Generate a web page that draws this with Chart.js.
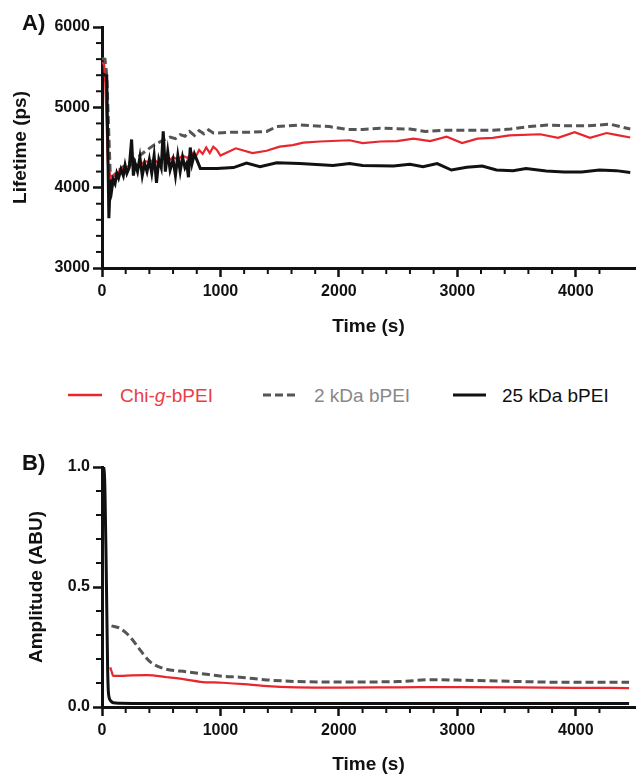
<!DOCTYPE html>
<html>
<head>
<meta charset="utf-8">
<title>Lifetime and amplitude vs time</title>
<script src="https://cdn.jsdelivr.net/npm/chart.js@4.4.1/dist/chart.umd.min.js"></script>
<style>
  body { margin: 0; background: #fff; font-family: "Liberation Sans", Arial, sans-serif; }
  #page { position: relative; width: 637px; height: 774px; overflow: hidden; }
  canvas { position: absolute; left: 0; }
  #chartA { top: 0; }
  #chartB { top: 430px; }
  .panel { position: absolute; left: 22px; font-weight: bold; font-size: 22px; line-height: 22px; color: #111; }
  .leg-text { position: absolute; top: 386px; font-size: 19px; line-height: 19px; white-space: nowrap; }
  .leg-line { position: absolute; top: 389.5px; }
</style>
</head>
<body>
<div id="page">
  <canvas id="chartA" width="637" height="340"></canvas>
  <canvas id="chartB" width="637" height="344"></canvas>

  <div class="panel" style="top:12px">A)</div>
  <div class="panel" style="top:452px">B)</div>

  <svg class="leg-line" style="left:68px" width="34" height="10"><line x1="0" y1="5" x2="34" y2="5" stroke="#e8262d" stroke-width="2.5"/></svg>
  <div class="leg-text" style="left:120px; color:#ec3c46">Chi-<i>g</i>-bPEI</div>
  <svg class="leg-line" style="left:263px" width="33" height="10"><line x1="0" y1="5" x2="33" y2="5" stroke="#555" stroke-width="3" stroke-dasharray="8 4"/></svg>
  <div class="leg-text" style="left:314px; color:#888">2 kDa bPEI</div>
  <svg class="leg-line" style="left:453px" width="33" height="10"><line x1="0" y1="5" x2="33" y2="5" stroke="#111" stroke-width="3"/></svg>
  <div class="leg-text" style="left:502px; color:#111">25 kDa bPEI</div>
</div>

<script>
// ---- data ----
// A) lifetime (ps) vs time (s)
const timeA_chi = [0, 18, 28, 50, 75, 100, 130, 160, 200, 240, 280, 320, 360, 400, 440, 480, 520, 560, 600, 640,
  680, 720, 760, 790, 820, 850, 880, 910, 940, 970, 1000, 1130, 1270, 1390, 1500, 1610, 1700, 1840, 2090, 2200,
  2350, 2490, 2630, 2770, 2910, 3040, 3170, 3300, 3440, 3700, 3850, 3990, 4120, 4260, 4330, 4460];
const lifeA_chi = [5560, 5530, 5300, 4300, 4100, 4150, 4180, 4230, 4250, 4280, 4300, 4270, 4330, 4320, 4350, 4300, 4370, 4330, 4380, 4350,
  4400, 4370, 4430, 4380, 4470, 4420, 4500, 4430, 4510, 4470, 4400, 4490, 4430, 4460, 4510, 4530, 4560, 4575, 4590, 4555,
  4575, 4580, 4610, 4580, 4635, 4555, 4610, 4620, 4650, 4665, 4620, 4690, 4620, 4680, 4660, 4625];

const timeA_2k = [0, 25, 40, 70, 85, 130, 180, 250, 320, 380, 440, 490, 530, 575, 620, 660, 700, 740, 780, 820,
  860, 900, 940, 980, 1100, 1250, 1390, 1475, 1670, 1920, 2070, 2200, 2350, 2600, 2730, 2880, 3040, 3300, 3450, 3610,
  3760, 3900, 4100, 4290, 4460];
const lifeA_2k = [5610, 5600, 5400, 4150, 4130, 4200, 4260, 4330, 4400, 4470, 4530, 4570, 4600, 4630, 4610, 4660, 4640, 4700, 4650, 4710,
  4670, 4720, 4680, 4680, 4690, 4690, 4700, 4760, 4780, 4760, 4725, 4725, 4740, 4730, 4700, 4715, 4715, 4715, 4730, 4760,
  4780, 4770, 4770, 4790, 4730];

const timeA_25k = [0, 40, 58, 70, 82, 95, 110, 125, 140, 160, 180, 195, 210, 230, 250, 265, 280, 300, 320, 340,
  360, 380, 400, 420, 440, 460, 480, 500, 517, 535, 555, 575, 600, 620, 640, 660, 680, 700, 715, 730,
  745, 760, 780, 830, 970, 1110, 1220, 1334, 1475, 1670, 1950, 2090, 2200, 2460, 2600, 2710, 2830, 2950, 3080, 3210,
  3330, 3470, 3580, 3750, 3900, 4050, 4200, 4340, 4460];
const lifeA_25k = [5420, 5390, 3620, 4100, 3970, 4100, 4050, 4180, 4120, 4230, 4150, 4280, 4180, 4250, 4600, 4150, 4300, 4200, 4380, 4150,
  4300, 4200, 4350, 4180, 4400, 4060, 4350, 4250, 4700, 4200, 4450, 4220, 4350, 4150, 4400, 4200, 4380, 4250, 4300, 4130,
  4500, 4300, 4420, 4240, 4240, 4250, 4305, 4260, 4310, 4300, 4275, 4300, 4275, 4270, 4290, 4262, 4300, 4220, 4255, 4270,
  4220, 4212, 4237, 4208, 4195, 4195, 4220, 4212, 4190];

// B) amplitude (ABU) vs time (s)
const timeB_chi = [70, 80, 95, 150, 250, 380, 550, 700, 830, 1020, 1200, 1360, 1640, 2000, 2500, 3000, 3500, 4000, 4450];
const ampB_chi = [0.165, 0.15, 0.13, 0.13, 0.132, 0.133, 0.124, 0.115, 0.105, 0.101, 0.095, 0.088, 0.082, 0.081, 0.082, 0.083, 0.082, 0.080, 0.079];

const timeB_2k = [80, 150, 236, 321, 405, 517, 714, 900, 1024, 1165, 1390, 1650, 2000, 2500, 2800, 3000, 3360, 3920, 4450];
const ampB_2k = [0.338, 0.328, 0.293, 0.238, 0.189, 0.161, 0.147, 0.135, 0.128, 0.124, 0.113, 0.106, 0.104, 0.106, 0.114, 0.112, 0.108, 0.103, 0.103];

const timeB_25k = [0, 15, 25, 35, 42, 48, 53, 60, 75, 95, 150, 400, 1000, 2000, 3000, 4000, 4450];
const ampB_25k = [1.0, 1.0, 0.9, 0.6, 0.35, 0.15, 0.07, 0.04, 0.025, 0.018, 0.016, 0.015, 0.015, 0.015, 0.015, 0.015, 0.015];

// labelled (major) ticks
const xMajorTicks = [0, 1000, 2000, 3000, 4000];
const yTicksA = [3000, 4000, 5000, 6000];
const yTicksB = [0, 0.5, 1.0];

const AXIS = '#111111';
const RED = '#e8262d';
const GREY = '#555555';
const BLACK = '#111111';
const tickFont = { family: '"Liberation Sans", Arial, sans-serif', size: 16, weight: 'bold' };
const titleFont = { family: '"Liberation Sans", Arial, sans-serif', size: 19, weight: 'bold', lineHeight: 1 };

function pts(xs, ys) {
    return xs.map(function (x, i) { return { x: x, y: ys[i] }; });
}

function isMajor(v, majors) {
    return majors.some(function (m) { return Math.abs(m - v) < 1e-6; });
}

// short unlabelled ticks between the labelled ones
const minorTicks = {
    id: 'minorTicks',
    afterDraw(chart, args, opts) {
        const ctx = chart.ctx;
        const area = chart.chartArea;
        const xs = chart.scales.x;
        const ys = chart.scales.y;
        ctx.save();
        ctx.strokeStyle = AXIS;
        ctx.lineWidth = 2;
        xs.ticks.forEach(function (t) {
            if (isMajor(t.value, opts.xMajor)) return;
            const p = xs.getPixelForValue(t.value);
            ctx.beginPath();
            ctx.moveTo(p, area.bottom);
            ctx.lineTo(p, area.bottom + 6);
            ctx.stroke();
        });
        ys.ticks.forEach(function (t) {
            if (isMajor(t.value, opts.yMajor)) return;
            const p = ys.getPixelForValue(t.value);
            ctx.beginPath();
            ctx.moveTo(area.left, p);
            ctx.lineTo(area.left - 6, p);
            ctx.stroke();
        });
        ctx.restore();
    }
};

function makeChart(id, cfg) {
    const padLeft = cfg.padLeft;
    return new Chart(document.getElementById(id), {
        type: 'line',
        data: {
            datasets: [
                { label: '25 kDa bPEI', data: pts(cfg.t25, cfg.v25), borderColor: BLACK, borderWidth: 3, order: 0 },
                { label: 'Chi-g-bPEI', data: pts(cfg.tChi, cfg.vChi), borderColor: RED, borderWidth: 2.2, order: 1 },
                { label: '2 kDa bPEI', data: pts(cfg.t2k, cfg.v2k), borderColor: GREY, borderWidth: 3, borderDash: [8, 4], order: 2 }
            ]
        },
        options: {
            responsive: false,
            animation: false,
            parsing: true,
            layout: { padding: { left: padLeft, right: 2, top: cfg.padTop, bottom: cfg.padBottom } },
            elements: {
                point: { radius: 0 },
                line: { tension: cfg.tension, cubicInterpolationMode: cfg.tension ? 'monotone' : 'default' }
            },
            plugins: {
                legend: { display: false },
                tooltip: { enabled: false },
                minorTicks: { xMajor: xMajorTicks, yMajor: cfg.yMajor }
            },
            scales: {
                x: {
                    type: 'linear',
                    min: 0,
                    max: 4500,
                    afterBuildTicks: function (s) {
                        s.ticks = s.ticks.filter(function (t) { return Math.abs(t.value / 200 - Math.round(t.value / 200)) < 1e-6; });
                    },
                    afterFit: function (s) { s.height = cfg.xHeight; },
                    ticks: {
                        stepSize: 200, autoSkip: false, maxRotation: 0, padding: 5, color: AXIS, font: tickFont,
                        callback: function (v) { return isMajor(v, xMajorTicks) ? String(v) : ''; }
                    },
                    grid: {
                        display: true, drawOnChartArea: false, tickLength: 9, tickWidth: 2.5,
                        tickColor: function (c) { return c.tick && isMajor(c.tick.value, xMajorTicks) ? AXIS : 'rgba(0,0,0,0)'; }
                    },
                    border: { display: true, color: AXIS, width: 3 },
                    title: { display: true, text: 'Time (s)', color: AXIS, font: titleFont, padding: 0 }
                },
                y: {
                    type: 'linear',
                    min: cfg.yMin,
                    max: cfg.yMax,
                    afterFit: function (s) { s.width = 102 - padLeft; },
                    ticks: {
                        stepSize: cfg.yStep, autoSkip: false, padding: 3, color: AXIS, font: tickFont,
                        callback: function (v) { return isMajor(v, cfg.yMajor) ? cfg.fmt(v) : ''; }
                    },
                    grid: {
                        display: true, drawOnChartArea: false, tickLength: 9, tickWidth: 2.5,
                        tickColor: function (c) { return c.tick && isMajor(c.tick.value, cfg.yMajor) ? AXIS : 'rgba(0,0,0,0)'; }
                    },
                    border: { display: true, color: AXIS, width: 3 },
                    title: { display: true, text: cfg.yTitle, color: AXIS, font: titleFont, padding: 0 }
                }
            }
        },
        plugins: [minorTicks]
    });
}

makeChart('chartA', {
    tChi: timeA_chi, vChi: lifeA_chi, t2k: timeA_2k, v2k: lifeA_2k, t25: timeA_25k, v25: lifeA_25k,
    yMin: 3000, yMax: 6000, yStep: 200, yMajor: yTicksA, yTitle: 'Lifetime (ps)',
    fmt: function (v) { return String(v); },
    padLeft: 11, padTop: 27, padBottom: 3.5, xHeight: 68.5, tension: 0
});

makeChart('chartB', {
    tChi: timeB_chi, vChi: ampB_chi, t2k: timeB_2k, v2k: ampB_2k, t25: timeB_25k, v25: ampB_25k,
    yMin: 0, yMax: 1, yStep: 0.1, yMajor: yTicksB, yTitle: 'Amplitude (ABU)',
    fmt: function (v) { return v.toFixed(1); },
    padLeft: 27.5, padTop: 37, padBottom: 0, xHeight: 67, tension: 0.3
});
</script>
</body>
</html>
